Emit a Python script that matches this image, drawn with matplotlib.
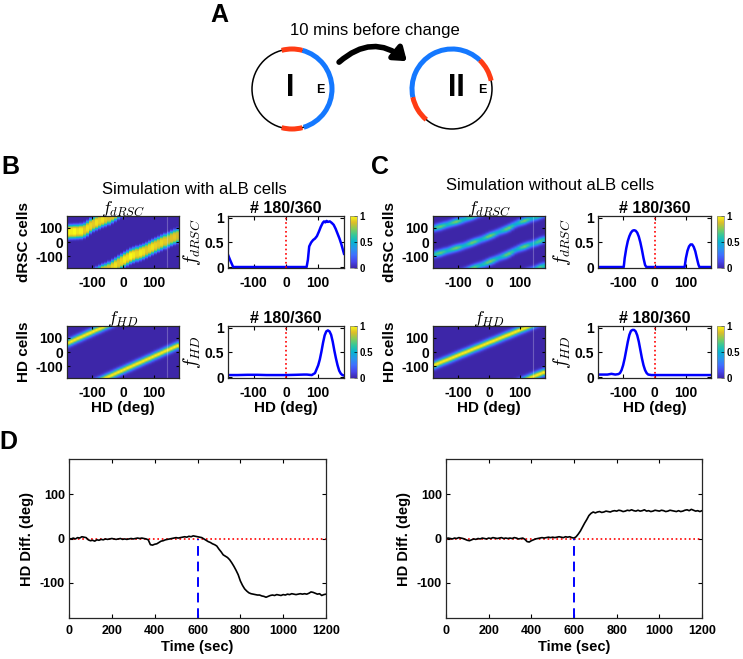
import numpy as np
import matplotlib
matplotlib.use("Agg")
import matplotlib.pyplot as plt
from matplotlib.colors import LinearSegmentedColormap
from matplotlib.patches import Arc, Circle, FancyArrowPatch

plt.rcParams['font.family'] = ['Liberation Sans', 'DejaVu Sans']
plt.rcParams['font.weight'] = 'bold'
plt.rcParams['axes.titleweight'] = 'bold'
plt.rcParams['axes.labelweight'] = 'bold'
plt.rcParams['mathtext.fontset'] = 'cm'
plt.rcParams['axes.unicode_minus'] = False

W, H = 743, 659

# ---------------- data ----------------
hd_cols = np.arange(-175, 180, 10)          # heatmap columns (deg)

# band centre of activity per column (deg, unwrapped)
b_drsc_center = [70, 71, 72, 73, 75, 82, 95, 112, 125, 135, 145, 155, 162, 172, 185, 198, 212, 225,
                 238, 250, 262, 270, 278, 285, 293, 303, 314, 325, 335, 345, 355, 365, 375, 386, 395, 402]
b_drsc_amp = [1.0, 0.97, 1.0, 0.95, 0.98, 0.9, 0.95, 0.93, 0.9, 0.95, 0.92, 0.95, 0.9, 0.88, 0.92, 0.95,
              0.9, 0.93, 0.97, 0.95, 1.0, 0.97, 0.93, 0.97, 0.95, 0.9, 0.93, 0.95, 0.92, 0.9, 0.93, 0.9,
              0.86, 0.88, 0.9, 0.86]
c_drsc_center = [-86, -80, -75, -68, -62, -55, -48, -42, -36, -30, -22, -14, -6, 2, 10, 18, 26, 35,
                 44, 52, 62, 72, 80, 88, 98, 110, 122, 132, 140, 147, 155, 162, 168, 176, 185, 193]
c_drsc_amp = [0.6, 0.68, 0.72, 0.65, 0.55, 0.6, 0.7, 0.75, 0.68, 0.56, 0.55, 0.65, 0.74, 0.72, 0.6,
              0.52, 0.6, 0.72, 0.76, 0.68, 0.55, 0.5, 0.6, 0.72, 0.74, 0.62, 0.5, 0.55, 0.68, 0.74,
              0.66, 0.52, 0.55, 0.66, 0.7, 0.6]
c_drsc_gap = 182                             # second bump offset (deg)
b_hd_center = [64, 74, 84, 94, 103, 113, 123, 132, 142, 152, 161, 171, 181, 190, 200, 210, 220, 229,
               239, 249, 258, 268, 278, 287, 297, 307, 316, 326, 336, 345, 355, 365, 374, 384, 394, 403]
c_hd_center = [-90, -81, -72, -63, -55, -46, -37, -28, -19, -10, -2, 7, 16, 25, 33, 42, 51, 60,
               69, 77, 86, 95, 104, 113, 121, 130, 139, 148, 157, 165, 174, 183, 192, 201, 209, 218]

# population profiles at step 180/360
b_drsc_x = [-180, -172, -164, 64, 68, 72, 78, 84, 90, 96, 102, 108, 114, 118, 122, 126, 130, 136,
            142, 148, 154, 160, 166, 172, 180]
b_drsc_y = [0.25, 0.12, 0.0, 0.0, 0.15, 0.42, 0.50, 0.55, 0.58, 0.63, 0.72, 0.82, 0.90, 0.93, 0.91,
            0.94, 0.92, 0.93, 0.90, 0.86, 0.78, 0.68, 0.58, 0.46, 0.27]
c_drsc_x = [-180, -98, -95, -90, -85, -80, -75, -70, -65, -60, -55, -50, -45, -40, -35, -30, -26,
            96, 100, 105, 110, 115, 120, 125, 130, 135, 140, 143, 180]
c_drsc_y = [0, 0, 0.18, 0.38, 0.53, 0.63, 0.70, 0.74, 0.75, 0.74, 0.70, 0.62, 0.50, 0.35, 0.18, 0.04, 0,
            0, 0.18, 0.33, 0.42, 0.46, 0.46, 0.41, 0.32, 0.18, 0.05, 0, 0]
b_hd_x = [-180, -150, -120, -90, -60, -30, 0, 30, 55, 65, 80, 90, 100, 105, 110, 115, 120, 125, 130,
          135, 140, 145, 150, 155, 160, 165, 170, 175, 180]
b_hd_y = [0.04, 0.04, 0.045, 0.045, 0.04, 0.04, 0.04, 0.045, 0.05, 0.05, 0.04, 0.08, 0.24, 0.36, 0.52,
          0.70, 0.85, 0.93, 0.95, 0.93, 0.86, 0.72, 0.54, 0.38, 0.24, 0.13, 0.07, 0.04, 0.03]
c_hd_x = [-180, -150, -137, -125, -115, -110, -105, -100, -95, -90, -85, -80, -75, -70, -65, -60, -55,
          -50, -45, -40, -35, -30, -25, -20, -10, 0, 30, 60, 90, 120, 150, 180]
c_hd_y = [0.05, 0.05, 0.065, 0.05, 0.06, 0.08, 0.14, 0.24, 0.38, 0.55, 0.72, 0.86, 0.94, 0.96, 0.96,
          0.93, 0.85, 0.72, 0.55, 0.38, 0.24, 0.14, 0.08, 0.05, 0.04, 0.04, 0.04, 0.04, 0.04, 0.04, 0.04, 0.04]

# D: HD difference over time, every 10 s
time_s = np.arange(0, 1201, 10)
change_time = 600
diff_with = [0, -1, 1, -1, 2, 1, 4, 3, 2, -3,
             -5, -4, -6, -3, -4, -2, -3, -1, -2, -1,
             0, -1, -2, -1, 0, -2, -1, -2, -1, 0,
             -1, 0, 1, 0, 1, 0, -1, -3, -14, -15,
             -13, -12, -9, -6, -5, -3, -2, -1, 0, 1,
             2, 1, 2, 3, 4, 3, 5, 4, 6, 5,
             4, 3, 2, -1, -4, -7, -9, -12, -14, -17,
             -24, -30, -37, -40, -43, -48, -55, -63, -72, -82,
             -96, -106, -114, -119, -123, -125, -126, -127, -128, -128,
             -130, -131, -133, -131, -129, -128, -129, -127, -128, -129,
             -127, -128, -126, -127, -125, -126, -127, -126, -125, -126,
             -125, -126, -124, -121, -122, -124, -126, -125, -129, -127,
             -126]
diff_without = [0, 1, 0, -1, 1, 0, 2, 1, 0, -2,
                -4, -5, -3, -1, -2, 0, -1, 1, 0, -1,
                1, 0, 2, 1, 0, 1, 2, 0, 1, 0,
                1, 0, 2, 1, -1, 0, 1, -2, -7, -8,
                -5, -3, -1, 0, 1, 2, 1, 2, 3, 2,
                3, 2, 3, 4, 3, 2, 4, 3, 4, 2,
                1, 4, 10, 17, 26, 35, 43, 52, 57, 60,
                58, 60, 61, 59, 60, 62, 61, 60, 62, 63,
                62, 64, 63, 61, 62, 64, 63, 65, 63, 62,
                64, 62, 63, 65, 62, 63, 61, 62, 64, 63,
                62, 64, 63, 61, 62, 64, 63, 62, 61, 63,
                61, 62, 64, 65, 63, 66, 64, 62, 63, 61,
                63]

# parula-like colormap
parula = LinearSegmentedColormap.from_list('parula', [
    (0.2422, 0.1504, 0.6603), (0.2803, 0.2782, 0.9221), (0.2440, 0.4358, 0.9988),
    (0.1540, 0.5902, 0.9218), (0.0297, 0.7082, 0.8163), (0.1938, 0.7758, 0.6251),
    (0.5044, 0.7993, 0.3480), (0.8634, 0.7406, 0.1596), (0.9769, 0.9839, 0.0805)])

cells = np.arange(-180, 180) + 0.5


def band_image(centers, amps, width, power, gap=None):
    img = np.zeros((cells.size, len(centers)))
    for j, c in enumerate(centers):
        a = amps[j] if np.ndim(amps) else amps
        for cc in ([c] if gap is None else [c, c + gap]):
            d = (cells - cc + 180) % 360 - 180
            img[:, j] = np.maximum(img[:, j], a * np.exp(-np.abs(d / width) ** power))
    return img


fig = plt.figure(figsize=(W / 100, H / 100), dpi=100)


def px_axes(x0, y0, x1, y1, **kw):
    return fig.add_axes([x0 / W, 1 - y1 / H, (x1 - x0) / W, (y1 - y0) / H], **kw)


def style(ax, fs, xpad=5.5, ypad=3):
    ax.tick_params(direction='in', length=3, width=0.8, top=True, right=True, labelsize=fs)
    ax.tick_params(axis='x', pad=xpad)
    ax.tick_params(axis='y', pad=ypad)
    for s in ax.spines.values():
        s.set_linewidth(0.9)
        s.set_color('0.15')


# ---------------- overlay: panel A and letters ----------------
ov = fig.add_axes([0, 0, 1, 1], zorder=-1)
ov.set_xlim(0, W)
ov.set_ylim(H, 0)
ov.axis('off')

blue_arc = '#1478ff'
red_arc = '#ff3c14'


def ring(cx, cy, blue, reds):
    ov.add_patch(Circle((cx, cy), 40, fill=False, lw=1.1, color='black'))
    a1, a2 = blue
    ov.add_patch(Arc((cx, cy), 80, 80, theta1=-a2, theta2=-a1, lw=3.6, color=blue_arc))
    for a1, a2 in reds:
        ov.add_patch(Arc((cx, cy), 80, 80, theta1=-a2, theta2=-a1, lw=3.6, color=red_arc))


ring(292, 89, (-73, 75), [(75, 105), (255, 285)])
ring(452, 89, (46, 192), [(12, 46), (192, 230)])
ov.text(290, 88, 'I', fontsize=22, ha='center', va='center')
ov.text(320, 90, 'E', fontsize=9, ha='center', va='center')
ov.text(456, 88, 'II', fontsize=22, ha='center', va='center')
ov.text(482, 90, 'E', fontsize=9, ha='center', va='center')
ov.add_patch(FancyArrowPatch((337, 64), (409, 63), connectionstyle='arc3,rad=-0.45',
                             arrowstyle='-|>,head_length=0.55,head_width=0.4', mutation_scale=13,
                             lw=4, color='black'))
ov.text(375, 31, '10 mins before change', fontsize=12, fontweight='normal', ha='center', va='center')

ov.text(219, 15, 'A', fontsize=18, ha='center', va='center')
ov.text(10, 167, 'B', fontsize=18, ha='center', va='center')
ov.text(380, 167, 'C', fontsize=18, ha='center', va='center')
ov.text(8, 442, 'D', fontsize=18, ha='center', va='center')
ov.text(194, 189, 'Simulation with aLB cells', fontsize=12, fontweight='normal', ha='center', va='center')
ov.text(550, 186, 'Simulation without aLB cells', fontsize=12, fontweight='normal', ha='center', va='center')

# ---------------- B / C panels ----------------
panels = [
    # heatmap box, line box, cbar box, image, profile, label names
    ((67, 216, 179, 268), (228, 216, 344, 268), (350, 216, 357, 268),
     band_image(b_drsc_center, b_drsc_amp, 47, 4), (b_drsc_x, b_drsc_y), 'dRSC', 'nearest', False),
    ((67, 326, 179, 378), (228, 326, 344, 378), (350, 326, 357, 378),
     band_image(b_hd_center, 1.0, 24, 2), (b_hd_x, b_hd_y), 'HD', 'bilinear', True),
    ((433, 216, 545, 268), (598, 216, 711, 268), (717, 216, 724, 268),
     band_image(c_drsc_center, c_drsc_amp, 22, 2, gap=c_drsc_gap), (c_drsc_x, c_drsc_y), 'dRSC',
     'bilinear', False),
    ((433, 326, 545, 378), (598, 326, 711, 378), (717, 326, 724, 378),
     band_image(c_hd_center, 1.0, 24, 2), (c_hd_x, c_hd_y), 'HD', 'bilinear', True),
]

for hbox, lbox, cbox, img, (px, py), name, interp, bottom in panels:
    ax = px_axes(*hbox)
    im = ax.imshow(img, extent=[-180, 180, -180, 180], origin='lower', aspect='auto', cmap=parula,
                   vmin=0, vmax=1, interpolation=interp)
    ax.axvline(140, color='white', alpha=0.25, lw=0.8)
    ax.set_xticks([-100, 0, 100])
    ax.set_yticks([-100, 0, 100])
    style(ax, 10)
    ax.tick_params(length=2)
    ax.set_title(r'$f_{%s}$' % name, fontsize=13, pad=2)
    ax.set_ylabel(name + ' cells', fontsize=11, labelpad=3)
    if bottom:
        ax.set_xlabel('HD (deg)', fontsize=11, labelpad=1)

    lx = px_axes(*lbox)
    lx.plot(px, py, color=(0, 0, 1), lw=1.8)
    lx.axvline(0, color='red', ls=':', lw=1.2)
    lx.set_xlim(-180, 180)
    lx.set_ylim(-0.02, 1.04)
    lx.set_xticks([-100, 0, 100])
    lx.set_yticks([0, 0.5, 1])
    lx.set_yticklabels(['0', '0.5', '1'])
    style(lx, 10)
    lx.set_title('# 180/360', fontsize=11.5, pad=2)
    lx.set_ylabel(r'$f_{%s}$' % name, fontsize=14, labelpad=1)
    if bottom:
        lx.set_xlabel('HD (deg)', fontsize=11, labelpad=1)

    cax = px_axes(*cbox)
    cb = fig.colorbar(im, cax=cax, ticks=[0, 0.5, 1])
    cb.ax.set_yticklabels(['0', '0.5', '1'])
    cb.ax.tick_params(labelsize=7, direction='in', length=2, width=0.5, pad=2)
    cb.outline.set_linewidth(0.5)
    cb.outline.set_edgecolor('0.5')

# ---------------- D panels ----------------
for box, vals in [((69, 459, 326, 618), diff_with), ((446, 459, 702, 618), diff_without)]:
    ax = px_axes(*box)
    ax.axhline(0, color='red', ls=':', lw=1.2)
    ax.vlines(change_time, -180, 0, color=(0, 0, 1), ls=(0, (5, 3)), lw=1.4)
    ax.plot(time_s, vals, color='black', lw=1.2)
    ax.set_xlim(0, 1200)
    ax.set_ylim(-180, 180)
    ax.set_xticks(np.arange(0, 1201, 200))
    ax.set_yticks([-100, 0, 100])
    style(ax, 9, xpad=5, ypad=3)
    ax.set_xlabel('Time (sec)', fontsize=10.5, labelpad=2)
    ax.set_ylabel('HD Diff. (deg)', fontsize=10.5, labelpad=4)

fig.savefig('out.png', dpi=100)
